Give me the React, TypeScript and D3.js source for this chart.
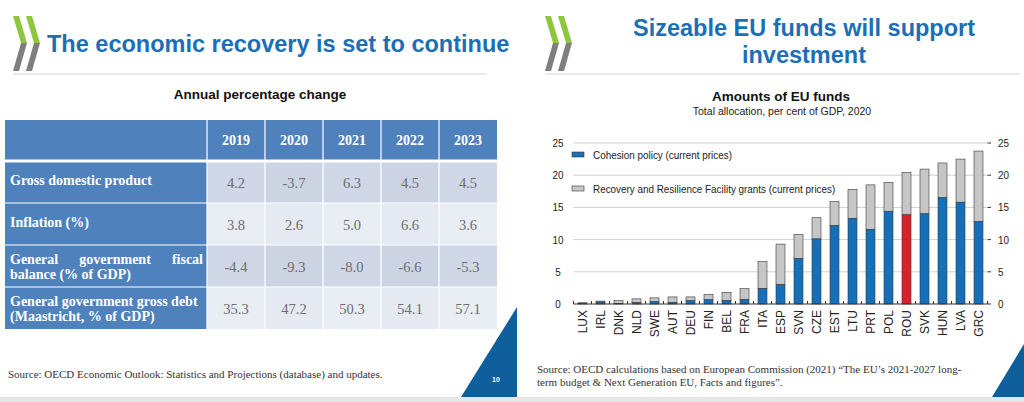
import React, { useRef, useEffect } from 'react';
import * as d3 from 'd3';

// Left slide: table
const years = ['2019', '2020', '2021', '2022', '2023'];
const rowLabels = [
  ['Gross domestic product'],
  ['Inflation (%)'],
  ['General government fiscal', 'balance (% of GDP)'],
  ['General government gross debt', '(Maastricht, % of GDP)'],
];
const gdp = [4.2, -3.7, 6.3, 4.5, 4.5];
const inflation = [3.8, 2.6, 5.0, 6.6, 3.6];
const fiscalBalance = [-4.4, -9.3, -8.0, -6.6, -5.3];
const grossDebt = [35.3, 47.2, 50.3, 54.1, 57.1];

// Right slide: EU funds chart
const countries = ['LUX', 'IRL', 'DNK', 'NLD', 'SWE', 'AUT', 'DEU', 'FIN', 'BEL', 'FRA', 'ITA', 'ESP',
  'SVN', 'CZE', 'EST', 'LTU', 'PRT', 'POL', 'ROU', 'SVK', 'HUN', 'LVA', 'GRC'];
const cohesion = [0.05, 0.3, 0.1, 0.2, 0.35, 0.25, 0.5, 0.65, 0.55, 0.7, 2.4, 3.0,
  7.05, 10.1, 12.2, 13.3, 11.6, 14.4, 13.85, 14.0, 16.5, 15.8, 12.8];
const rrf = [0.15, 0.15, 0.45, 0.6, 0.6, 0.85, 0.6, 0.85, 1.25, 1.7, 4.2, 6.3,
  3.75, 3.3, 3.7, 4.5, 6.9, 4.5, 6.55, 6.95, 5.4, 6.7, 10.95];
const highlight = 'ROU';
const yTicks = [0, 5, 10, 15, 20, 25];
const legendLabels = ['Cohesion policy (current prices)', 'Recovery and Resilience Facility grants (current prices)'];

const W = 1024;
const H = 402;
const BLUE_TITLE = '#1b6fb7';
const SANS = '"Liberation Sans", Arial, sans-serif';
const SERIF = '"Liberation Serif", "DejaVu Serif", serif';
const NARROW_X = 0.86; // the chart uses a condensed face

function drawLogo(g: d3.Selection<SVGGElement, unknown, null, undefined>, x0: number) {
  [0, 13].forEach((dx) => {
    const x = x0 + dx;
    g.append('polygon')
      .attr('points', `${x},16 ${x + 6},16 ${x + 14},43 ${x + 8},43`)
      .attr('fill', '#8dc63f');
    g.append('polygon')
      .attr('points', `${x + 8},43 ${x + 14},43 ${x + 6},71 ${x},71`)
      .attr('fill', '#7f7f7f');
  });
}

export default function App() {
  const ref = useRef<SVGSVGElement>(null);

  useEffect(() => {
    if (!ref.current) return;
    const svg = d3.select(ref.current);
    svg.selectAll('*').remove();

    svg.append('rect').attr('width', W).attr('height', H).attr('fill', '#ffffff');

    // ---------- left slide ----------
    const left = svg.append('g');
    drawLogo(left, 13);
    left.append('text')
      .attr('x', 47).attr('y', 52)
      .attr('font-family', SANS).attr('font-weight', 'bold').attr('font-size', 23.5)
      .attr('fill', BLUE_TITLE)
      .text('The economic recovery is set to continue');
    left.append('line')
      .attr('x1', 13).attr('x2', 487).attr('y1', 74).attr('y2', 74)
      .attr('stroke', '#d4d4d4').attr('stroke-width', 1);
    left.append('text')
      .attr('x', 260).attr('y', 99).attr('text-anchor', 'middle')
      .attr('font-family', SANS).attr('font-weight', 'bold').attr('font-size', 13.5)
      .attr('fill', '#111').text('Annual percentage change');

    const rows = [gdp, inflation, fiscalBalance, grossDebt];
    const tableLeft = 5;
    const labelRight = 207;
    const tableRight = 497;
    const headerTop = 120;
    const headerBottom = 161;
    const col = d3.scaleBand<string>().domain(years).range([labelRight, tableRight]);
    const row = d3.scaleBand<number>().domain(d3.range(rows.length)).range([headerBottom, 329]);

    // header
    left.append('rect')
      .attr('x', tableLeft).attr('y', headerTop)
      .attr('width', tableRight - tableLeft).attr('height', headerBottom - headerTop)
      .attr('fill', '#4f81bd');
    years.forEach((yr) => {
      left.append('text')
        .attr('x', col(yr)! + col.bandwidth() / 2).attr('y', 145)
        .attr('text-anchor', 'middle')
        .attr('font-family', SERIF).attr('font-weight', 'bold').attr('font-size', 14)
        .attr('fill', '#fff').text(yr);
    });

    rows.forEach((vals, i) => {
      const y0 = row(i)!;
      const h = row.bandwidth();
      left.append('rect')
        .attr('x', tableLeft).attr('y', y0).attr('width', labelRight - tableLeft).attr('height', h)
        .attr('fill', '#4f81bd');
      vals.forEach((v, j) => {
        const fill = i % 2 === 0 ? (j % 2 === 0 ? '#d0d7e6' : '#ccd4e4') : (j % 2 === 0 ? '#e9edf4' : '#e5e9f2');
        left.append('rect')
          .attr('x', col(years[j])!).attr('y', y0).attr('width', col.bandwidth()).attr('height', h)
          .attr('fill', fill);
        left.append('text')
          .attr('x', col(years[j])! + col.bandwidth() / 2)
          .attr('y', y0 + h / 2 + 6)
          .attr('text-anchor', 'middle')
          .attr('font-family', SERIF).attr('font-size', 14.5)
          .attr('fill', '#6e6e6e').text(v.toFixed(1));
      });

      const lines = rowLabels[i];
      lines.forEach((ln, k) => {
        const baseline = lines.length === 1 ? y0 + h / 2 + 3 : y0 + 19 + k * 15;
        const justify = lines.length > 1 && k === 0 && i === 2;
        if (!justify) {
          left.append('text')
            .attr('x', tableLeft + 5).attr('y', baseline)
            .attr('font-family', SERIF).attr('font-weight', 'bold').attr('font-size', 14)
            .attr('fill', '#fff').text(ln);
        } else {
          const words = ln.split(' ');
          const nodes = words.map((w) => left.append('text')
            .attr('y', baseline)
            .attr('font-family', SERIF).attr('font-weight', 'bold').attr('font-size', 14)
            .attr('fill', '#fff').text(w));
          const widths = nodes.map((n) => (n.node() as SVGTextElement).getComputedTextLength());
          const avail = labelRight - 4 - (tableLeft + 5);
          const gap = (avail - d3.sum(widths)) / (words.length - 1);
          let x = tableLeft + 5;
          nodes.forEach((n, idx) => {
            n.attr('x', x);
            x += widths[idx] + gap;
          });
        }
      });
    });

    // white cell borders
    const vLines = [labelRight, ...years.slice(1).map((yr) => col(yr)!)];
    vLines.forEach((x) => {
      left.append('line').attr('x1', x).attr('x2', x).attr('y1', headerTop).attr('y2', 329)
        .attr('stroke', '#fff').attr('stroke-width', 1.2);
    });
    d3.range(1, rows.length).forEach((i) => {
      left.append('line').attr('x1', tableLeft).attr('x2', tableRight)
        .attr('y1', row(i)!).attr('y2', row(i)!)
        .attr('stroke', '#fff').attr('stroke-width', 1.2);
    });
    left.append('line').attr('x1', tableLeft).attr('x2', tableRight)
      .attr('y1', headerBottom).attr('y2', headerBottom)
      .attr('stroke', '#fff').attr('stroke-width', 3);

    left.append('text')
      .attr('x', 8).attr('y', 378)
      .attr('font-family', SERIF).attr('font-size', 11).attr('fill', '#333')
      .text('Source: OECD Economic Outlook: Statistics and Projections (database) and updates.');

    left.append('polygon')
      .attr('points', '517,307 517,397 461,397')
      .attr('fill', '#0f5f9c');
    left.append('text')
      .attr('x', 496).attr('y', 382).attr('text-anchor', 'middle')
      .attr('font-family', SANS).attr('font-weight', 'bold').attr('font-size', 7)
      .attr('fill', '#fff').text('10');

    // ---------- right slide ----------
    const right = svg.append('g');
    drawLogo(right, 545);
    right.append('text')
      .attr('x', 804).attr('y', 36).attr('text-anchor', 'middle')
      .attr('font-family', SANS).attr('font-weight', 'bold').attr('font-size', 23.5)
      .attr('fill', BLUE_TITLE).text('Sizeable EU funds will support');
    right.append('text')
      .attr('x', 804).attr('y', 63).attr('text-anchor', 'middle')
      .attr('font-family', SANS).attr('font-weight', 'bold').attr('font-size', 23.5)
      .attr('fill', BLUE_TITLE).text('investment');
    right.append('line')
      .attr('x1', 545).attr('x2', 1020).attr('y1', 74).attr('y2', 74)
      .attr('stroke', '#d4d4d4').attr('stroke-width', 1);

    right.append('text')
      .attr('x', 781).attr('y', 101).attr('text-anchor', 'middle')
      .attr('font-family', SANS).attr('font-weight', 'bold').attr('font-size', 13.5)
      .attr('fill', '#111').text('Amounts of EU funds');
    right.append('text')
      .attr('x', 782).attr('y', 115).attr('text-anchor', 'middle')
      .attr('font-family', SANS).attr('font-size', 10.5)
      .attr('fill', '#222').text('Total allocation, per cent of GDP, 2020');

    const x = d3.scaleBand<string>().domain(countries).range([573.5, 987.5]).paddingInner(0.5).paddingOuter(0.25);
    const y = d3.scaleLinear().domain([0, 25]).range([304, 143]);

    const chart = right.append('g');
    yTicks.forEach((t) => {
      if (t > 0) {
        chart.append('line')
          .attr('x1', 573.5).attr('x2', 987.5).attr('y1', y(t)).attr('y2', y(t))
          .attr('stroke', '#d0d0d0').attr('stroke-width', 1);
      }
      chart.append('line')
        .attr('x1', 987.5).attr('x2', 991).attr('y1', y(t)).attr('y2', y(t))
        .attr('stroke', '#333').attr('stroke-width', 1);
      chart.append('text')
        .attr('transform', `translate(558,${y(t) + 4}) scale(${NARROW_X},1)`)
        .attr('text-anchor', 'middle')
        .attr('font-family', SANS).attr('font-size', 11.5).attr('fill', '#222').text(String(t));
      chart.append('text')
        .attr('transform', `translate(998,${y(t) + 4}) scale(${NARROW_X},1)`)
        .attr('text-anchor', 'start')
        .attr('font-family', SANS).attr('font-size', 11.5).attr('fill', '#222').text(String(t));
    });

    countries.forEach((c, i) => {
      const bx = x(c)!;
      const bw = x.bandwidth();
      chart.append('rect')
        .attr('x', bx).attr('width', bw)
        .attr('y', y(cohesion[i] + rrf[i])).attr('height', y(cohesion[i]) - y(cohesion[i] + rrf[i]))
        .attr('fill', '#c6c6c6').attr('stroke', '#3a3a3a').attr('stroke-width', 0.6);
      chart.append('rect')
        .attr('x', bx).attr('width', bw)
        .attr('y', y(cohesion[i])).attr('height', y(0) - y(cohesion[i]))
        .attr('fill', c === highlight ? '#d7222b' : '#1670b9').attr('stroke', '#3a3a3a').attr('stroke-width', 0.6);
    });

    // x axis
    chart.append('line')
      .attr('x1', 573.5).attr('x2', 987.5).attr('y1', y(0)).attr('y2', y(0))
      .attr('stroke', '#333').attr('stroke-width', 1);
    d3.range(countries.length + 1).forEach((k) => {
      const tx = 573.5 + k * x.step();
      chart.append('line')
        .attr('x1', tx).attr('x2', tx).attr('y1', y(0)).attr('y2', y(0) - 3)
        .attr('stroke', '#333').attr('stroke-width', 1);
    });
    countries.forEach((c) => {
      const cx = x(c)! + x.bandwidth() / 2;
      chart.append('text')
        .attr('transform', `translate(${cx + 4},310) rotate(-90)`)
        .attr('text-anchor', 'end')
        .attr('font-family', SANS).attr('font-size', 12).attr('fill', '#222').text(c);
    });

    // legend
    const swatch = [['#1670b9', 152], ['#c6c6c6', 186]] as const;
    swatch.forEach(([fill, ly], i) => {
      chart.append('rect')
        .attr('x', 572).attr('y', ly).attr('width', 12).attr('height', 5)
        .attr('fill', fill).attr('stroke', '#3a3a3a').attr('stroke-width', 0.6);
      chart.append('text')
        .attr('transform', `translate(593,${ly + 6.5}) scale(${NARROW_X},1)`)
        .attr('font-family', SANS).attr('font-size', 11.5).attr('fill', '#222').text(legendLabels[i]);
    });

    right.append('text')
      .attr('x', 537).attr('y', 373)
      .attr('font-family', SERIF).attr('font-size', 11).attr('fill', '#333')
      .text('Source: OECD calculations based on European Commission (2021) \u201cThe EU\u2019s 2021-2027 long-');
    right.append('text')
      .attr('x', 537).attr('y', 386)
      .attr('font-family', SERIF).attr('font-size', 11).attr('fill', '#333')
      .text('term budget & Next Generation EU, Facts and figures\u201d.');

    right.append('polygon')
      .attr('points', '1024,344 1024,397 992,397')
      .attr('fill', '#0f5f9c');

    svg.append('rect').attr('x', 0).attr('y', 397).attr('width', W).attr('height', H - 397).attr('fill', '#e6e6e6');
  }, []);

  return (
    <div style={{ position: 'absolute', left: 0, top: 0 }}>
      <svg ref={ref} width={W} height={H} style={{ display: 'block' }} />
    </div>
  );
}
